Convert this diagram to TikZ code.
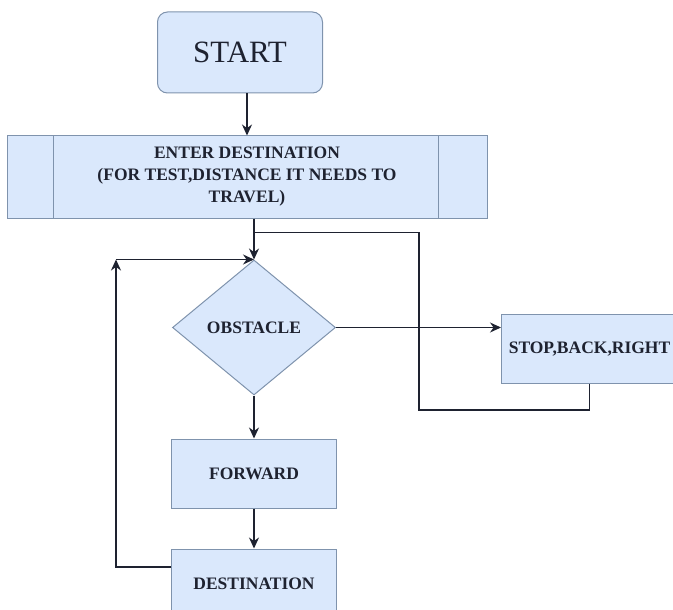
\documentclass[tikz,border=0pt]{standalone}
\usepackage{fontspec}
\setmainfont{Liberation Serif}
\usepackage{tikz}
\usetikzlibrary{arrows.meta,positioning,shapes.geometric}
\usepackage{xcolor}
\definecolor{boxfill}{HTML}{DAE8FC}
\definecolor{boxline}{HTML}{7F93AD}
\definecolor{ink}{HTML}{1E2230}

\begin{document}
\begin{tikzpicture}[x=1pt,y=-1pt,
    block/.style={rectangle,draw=boxline,fill=boxfill,line width=1pt,minimum width=165pt,minimum height=69pt,inner sep=0pt,text=ink,font=\fontsize{17.5}{22}\selectfont\bfseries,align=center},
    term/.style={block,rounded corners=10pt,minimum height=81pt,font=\fontsize{31}{34}\selectfont},
    decision/.style={diamond,draw=boxline,fill=boxfill,line width=1pt,minimum width=163pt,minimum height=135pt,inner sep=0pt,text=ink,font=\fontsize{17.5}{22}\selectfont\bfseries},
    line/.style={draw=ink,line width=1.3pt},
    >={Stealth[length=11pt,width=10pt]}]
    \useasboundingbox (0,0) rectangle (673,610);
    \node(start)[term] at (240,52.5) {START};
    \node(enter)[block,minimum width=480pt,minimum height=82pt,below=42pt of start,xshift=7pt]
        {ENTER DESTINATION\\(FOR TEST,DISTANCE IT NEEDS TO\\TRAVEL)};
    \draw[draw=boxline,line width=1pt] ([xshift=47pt]enter.north west)--([xshift=47pt]enter.south west);
    \draw[draw=boxline,line width=1pt] ([xshift=-49pt]enter.north east)--([xshift=-49pt]enter.south east);
    \node(obst)[decision,below=41pt of enter,xshift=7pt]   {OBSTACLE};
    \node(stop)[block,minimum width=176pt,right=165pt of obst,yshift=-21.5pt]   {STOP,BACK,RIGHT};
    \node(fwd)[block,below=43pt of obst]   {FORWARD};
    \node(dest)[block,below=40pt of fwd]   {DESTINATION};
    \coordinate(merge) at ([yshift=-14pt]enter.south -| obst.north);
    \coordinate(back) at ([xshift=-82pt,yshift=-26pt]stop.south west);
    \coordinate(loop) at ([xshift=-55pt]obst.north -| dest.west);
    \draw[line,->] (start.south -| enter.north)--(enter.north);
    \draw[line,->] (enter.south -| obst.north)--(obst.north);
    \draw[line,->] (obst.east)--(obst.east -| stop.west);
    \draw[line] (stop.south) |- (back) |- (merge);
    \draw[line,->] (obst.south)--(fwd.north);
    \draw[line,->] (fwd.south)--(dest.north);
    \draw[line,->] ([yshift=16.5pt]dest.west) -| (loop);
    \draw[line,->] (loop)--(obst.north);
\end{tikzpicture}
\end{document}
